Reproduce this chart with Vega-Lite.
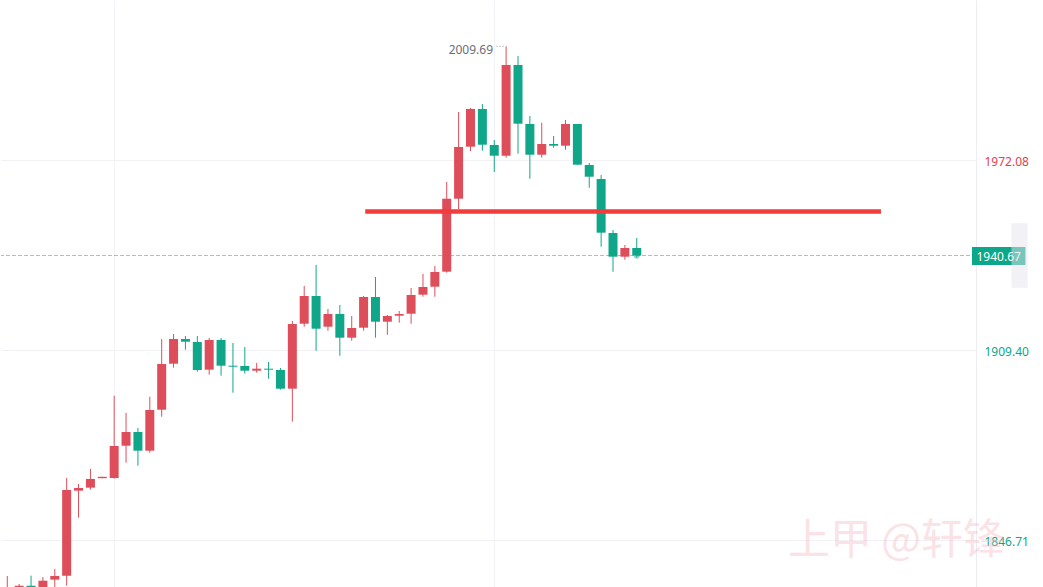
{
  "$schema": "https://vega.github.io/schema/vega-lite/v6.json",
  "width": 975,
  "height": 587,
  "padding": 0,
  "autosize": {"type": "pad"},
  "background": "white",
  "config": {"view": {"stroke": null}, "font": "Noto Sans"},
  "datasets": {
    "candles": [
      {"i": 0, "o": 1829.32, "h": 1834.94, "l": 1828.67, "c": 1830.97},
      {"i": 1, "o": 1830.97, "h": 1832.29, "l": 1830.65, "c": 1831.74},
      {"i": 2, "o": 1831.74, "h": 1835.04, "l": 1830.65, "c": 1830.97},
      {"i": 3, "o": 1830.32, "h": 1834.60, "l": 1829.99, "c": 1833.38},
      {"i": 4, "o": 1833.72, "h": 1837.24, "l": 1831.30, "c": 1834.93},
      {"i": 5, "o": 1835.04, "h": 1867.27, "l": 1831.74, "c": 1863.31},
      {"i": 6, "o": 1863.08, "h": 1865.29, "l": 1854.17, "c": 1863.97},
      {"i": 7, "o": 1864.07, "h": 1870.24, "l": 1863.41, "c": 1866.94},
      {"i": 8, "o": 1867.20, "h": 1867.66, "l": 1867.20, "c": 1867.66},
      {"i": 9, "o": 1867.27, "h": 1894.42, "l": 1867.04, "c": 1877.82},
      {"i": 10, "o": 1877.92, "h": 1888.71, "l": 1872.31, "c": 1882.44},
      {"i": 11, "o": 1882.44, "h": 1883.76, "l": 1871.32, "c": 1876.27},
      {"i": 12, "o": 1876.27, "h": 1894.09, "l": 1875.61, "c": 1889.70},
      {"i": 13, "o": 1889.80, "h": 1913.13, "l": 1887.49, "c": 1904.87},
      {"i": 14, "o": 1904.97, "h": 1914.77, "l": 1903.65, "c": 1913.13},
      {"i": 15, "o": 1913.13, "h": 1914.11, "l": 1909.59, "c": 1912.23},
      {"i": 16, "o": 1912.13, "h": 1914.11, "l": 1902.33, "c": 1902.90},
      {"i": 17, "o": 1903.00, "h": 1913.45, "l": 1901.35, "c": 1912.79},
      {"i": 18, "o": 1912.79, "h": 1913.45, "l": 1901.02, "c": 1904.32},
      {"i": 19, "o": 1904.32, "h": 1911.81, "l": 1895.41, "c": 1903.99},
      {"i": 20, "o": 1904.22, "h": 1910.49, "l": 1901.68, "c": 1902.67},
      {"i": 21, "o": 1902.67, "h": 1905.21, "l": 1902.01, "c": 1903.33},
      {"i": 22, "o": 1903.33, "h": 1905.54, "l": 1900.03, "c": 1903.00},
      {"i": 23, "o": 1902.90, "h": 1903.56, "l": 1896.40, "c": 1896.73},
      {"i": 24, "o": 1896.73, "h": 1919.07, "l": 1885.84, "c": 1918.08},
      {"i": 25, "o": 1918.17, "h": 1930.61, "l": 1917.18, "c": 1927.31},
      {"i": 26, "o": 1927.31, "h": 1937.54, "l": 1909.26, "c": 1916.52},
      {"i": 27, "o": 1917.18, "h": 1923.02, "l": 1915.86, "c": 1921.37},
      {"i": 28, "o": 1921.37, "h": 1924.34, "l": 1907.61, "c": 1913.55},
      {"i": 29, "o": 1913.55, "h": 1920.71, "l": 1912.56, "c": 1916.75},
      {"i": 30, "o": 1916.85, "h": 1927.31, "l": 1915.86, "c": 1926.98},
      {"i": 31, "o": 1926.98, "h": 1933.58, "l": 1913.55, "c": 1918.83},
      {"i": 32, "o": 1918.83, "h": 1921.04, "l": 1914.54, "c": 1920.71},
      {"i": 33, "o": 1920.81, "h": 1922.36, "l": 1918.50, "c": 1921.37},
      {"i": 34, "o": 1921.47, "h": 1929.95, "l": 1918.17, "c": 1927.64},
      {"i": 35, "o": 1927.74, "h": 1934.57, "l": 1927.08, "c": 1930.28},
      {"i": 36, "o": 1930.38, "h": 1937.21, "l": 1927.08, "c": 1935.23},
      {"i": 37, "o": 1935.33, "h": 1964.92, "l": 1935.00, "c": 1959.41},
      {"i": 38, "o": 1959.41, "h": 1988.02, "l": 1955.92, "c": 1976.47},
      {"i": 39, "o": 1976.57, "h": 1989.34, "l": 1975.15, "c": 1989.01},
      {"i": 40, "o": 1989.01, "h": 1990.66, "l": 1975.25, "c": 1977.23},
      {"i": 41, "o": 1977.13, "h": 1978.78, "l": 1968.22, "c": 1973.60},
      {"i": 42, "o": 1973.60, "h": 2009.69, "l": 1972.94, "c": 2003.52},
      {"i": 43, "o": 2003.52, "h": 2006.49, "l": 1974.26, "c": 1984.16},
      {"i": 44, "o": 1984.06, "h": 1986.70, "l": 1966.01, "c": 1973.93},
      {"i": 45, "o": 1973.93, "h": 1984.49, "l": 1972.94, "c": 1977.46},
      {"i": 46, "o": 1977.46, "h": 1980.10, "l": 1976.24, "c": 1976.90},
      {"i": 47, "o": 1976.90, "h": 1985.38, "l": 1975.58, "c": 1984.06},
      {"i": 48, "o": 1984.06, "h": 1984.06, "l": 1970.63, "c": 1970.63},
      {"i": 49, "o": 1970.53, "h": 1971.19, "l": 1963.04, "c": 1966.67},
      {"i": 50, "o": 1965.91, "h": 1967.23, "l": 1943.58, "c": 1948.20},
      {"i": 51, "o": 1948.10, "h": 1949.09, "l": 1935.33, "c": 1940.28},
      {"i": 52, "o": 1940.28, "h": 1944.14, "l": 1939.29, "c": 1943.15},
      {"i": 53, "o": 1943.15, "h": 1946.45, "l": 1940.08, "c": 1940.67}
    ]
  },
  "layer": [
    {
      "data": {"name": "candles"},
      "mark": {"type": "rule", "clip": true, "strokeWidth": 1},
      "encoding": {
        "x": {
          "field": "i", "type": "quantitative",
          "scale": {"domain": [-0.108, 81.142], "nice": false, "zero": false},
          "axis": {"orient": "bottom", "values": [9, 41], "grid": true, "gridColor": "#f2f2f6", "labels": false, "ticks": false, "domain": false, "title": null}
        },
        "y": {
          "field": "l", "type": "quantitative",
          "scale": {"domain": [1831.30, 2024.97], "nice": false, "zero": false},
          "axis": {
            "orient": "right", "values": [1846.71, 1909.40, 1972.08], "format": ".2f",
            "grid": true, "gridColor": "#f2f2f6", "ticks": false, "domain": true, "domainColor": "#ececf2",
            "labelPadding": 8, "labelFontSize": 12, "labelFont": "Noto Sans", "labelOffset": 1.5,
            "labelColor": {"condition": {"test": "datum.value > 1940.67", "value": "#e0404f"}, "value": "#0ca789"},
            "title": null
          }
        },
        "y2": {"field": "h"},
        "color": {"condition": {"test": "datum.c >= datum.o", "value": "#de4d5a"}, "value": "#0fa68a"}
      }
    },
    {
      "data": {"values": [{"p": 1940.67}]},
      "mark": {"type": "rule", "strokeDash": [4, 2], "color": "#0fa68a", "opacity": 0.5, "strokeWidth": 1},
      "encoding": {"y": {"field": "p", "type": "quantitative", "scale": {"domain": [1831.30, 2024.97], "nice": false, "zero": false}}}
    },
    {
      "data": {"name": "candles"},
      "mark": {"type": "bar", "width": 9, "clip": true},
      "encoding": {
        "x": {"field": "i", "type": "quantitative", "scale": {"domain": [-0.108, 81.142], "nice": false, "zero": false}},
        "y": {"field": "o", "type": "quantitative", "scale": {"domain": [1831.30, 2024.97], "nice": false, "zero": false}},
        "y2": {"field": "c"},
        "color": {"condition": {"test": "datum.c >= datum.o", "value": "#de4d5a"}, "value": "#0fa68a"}
      }
    },
    {
      "data": {"values": [{"a": 30.14, "b": 73.56, "p": 1955.2}]},
      "mark": {"type": "rule", "color": "#f23b3b", "strokeWidth": 4.5, "strokeCap": "butt"},
      "encoding": {
        "x": {"field": "a", "type": "quantitative", "scale": {"domain": [-0.108, 81.142], "nice": false, "zero": false}},
        "x2": {"field": "b"},
        "y": {"field": "p", "type": "quantitative", "scale": {"domain": [1831.30, 2024.97], "nice": false, "zero": false}}
      }
    },
    {
      "data": {"values": [{"a": 41.2, "b": 41.95, "p": 2009.69}]},
      "mark": {"type": "rule", "color": "#9598a1", "strokeDash": [1, 2], "strokeWidth": 1},
      "encoding": {
        "x": {"field": "a", "type": "quantitative", "scale": {"domain": [-0.108, 81.142], "nice": false, "zero": false}},
        "x2": {"field": "b"},
        "y": {"field": "p", "type": "quantitative", "scale": {"domain": [1831.30, 2024.97], "nice": false, "zero": false}}
      }
    },
    {
      "data": {"values": [{"a": 40.9, "p": 2009.69, "t": "2009.69"}]},
      "mark": {"type": "text", "align": "right", "baseline": "middle", "dy": 4, "fontSize": 12, "color": "#6b6e79", "font": "Noto Sans"},
      "encoding": {
        "x": {"field": "a", "type": "quantitative", "scale": {"domain": [-0.108, 81.142], "nice": false, "zero": false}},
        "y": {"field": "p", "type": "quantitative", "scale": {"domain": [1831.30, 2024.97], "nice": false, "zero": false}},
        "text": {"field": "t"}
      }
    },
    {
      "data": {"values": [{"i": 53, "p": 1940.67}]},
      "mark": {"type": "point", "filled": true, "size": 40, "color": "#0fa68a", "opacity": 0.45},
      "encoding": {
        "x": {"field": "i", "type": "quantitative", "scale": {"domain": [-0.108, 81.142], "nice": false, "zero": false}},
        "y": {"field": "p", "type": "quantitative", "scale": {"domain": [1831.30, 2024.97], "nice": false, "zero": false}}
      }
    },
    {
      "data": {"values": [{"a": 81.225, "b": 85.725, "p1": 1943.48, "p2": 1937.54}]},
      "mark": {"type": "rect", "color": "#0ca789"},
      "encoding": {
        "x": {"field": "a", "type": "quantitative", "scale": {"domain": [-0.108, 81.142], "nice": false, "zero": false}},
        "x2": {"field": "b"},
        "y": {"field": "p1", "type": "quantitative", "scale": {"domain": [1831.30, 2024.97], "nice": false, "zero": false}},
        "y2": {"field": "p2"}
      }
    },
    {
      "data": {"values": [{"a": 83.475, "p": 1940.67, "t": "1940.67"}]},
      "mark": {"type": "text", "align": "center", "baseline": "middle", "dy": 1, "fontSize": 12, "color": "#ffffff", "font": "Noto Sans"},
      "encoding": {
        "x": {"field": "a", "type": "quantitative", "scale": {"domain": [-0.108, 81.142], "nice": false, "zero": false}},
        "y": {"field": "p", "type": "quantitative", "scale": {"domain": [1831.30, 2024.97], "nice": false, "zero": false}},
        "text": {"field": "t"}
      }
    },
    {
      "data": {"values": [{"a": 84.55, "b": 85.9, "p1": 1951.3, "p2": 1930.0}]},
      "mark": {"type": "rect", "color": "#e4e4ee", "opacity": 0.5},
      "encoding": {
        "x": {"field": "a", "type": "quantitative", "scale": {"domain": [-0.108, 81.142], "nice": false, "zero": false}},
        "x2": {"field": "b"},
        "y": {"field": "p1", "type": "quantitative", "scale": {"domain": [1831.30, 2024.97], "nice": false, "zero": false}},
        "y2": {"field": "p2"}
      }
    },
    {
      "data": {"values": [{"a": 65.725, "p": 1846.48, "t": "上甲 @轩锋"}]},
      "mark": {"type": "text", "align": "left", "baseline": "middle", "fontSize": 42, "color": "#f7b8c1", "opacity": 0.4, "font": "Noto Sans CJK SC"},
      "encoding": {
        "x": {"field": "a", "type": "quantitative", "scale": {"domain": [-0.108, 81.142], "nice": false, "zero": false}},
        "y": {"field": "p", "type": "quantitative", "scale": {"domain": [1831.30, 2024.97], "nice": false, "zero": false}},
        "text": {"field": "t"}
      }
    }
  ]
}
